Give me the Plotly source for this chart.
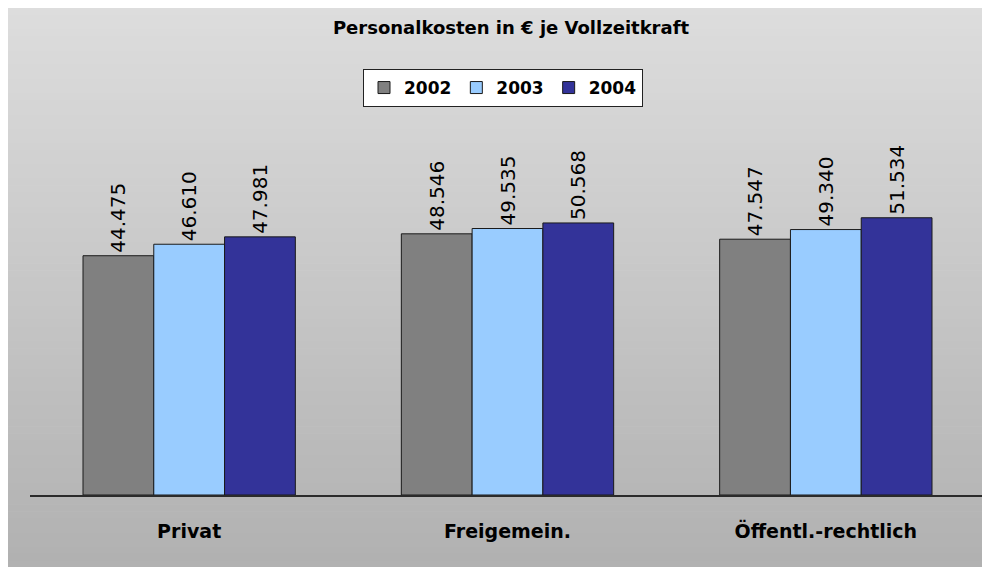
import plotly.graph_objects as go

categories = ["Privat", "Freigemein.", "Öffentl.-rechtlich"]
years = ["2002", "2003", "2004"]
values_2002 = [44475, 48546, 47547]
values_2003 = [46610, 49535, 49340]
values_2004 = [47981, 50568, 51534]
colors = ["#808080", "#99CCFF", "#333399"]

series = [values_2002, values_2003, values_2004]

FONT = "DejaVu Sans, Verdana, sans-serif"
W, H = 990, 567
ML, MR, MT, MB = 22, 13, 102, 80
PW = W - ML - MR
PH = H - MT - MB

fig = go.Figure()
for name, vals, col in zip(years, series, colors):
    fig.add_trace(go.Bar(
        x=categories, y=vals, name=f"<b>{name}</b>",
        marker=dict(color=col, line=dict(color="#1a1a1a", width=1)),
        texttemplate="%{y:,.0f}", textposition="outside", textangle=-90,
        textfont=dict(family=FONT, size=20, color="#000000"),
        cliponaxis=False,
    ))

def px_to_paper_x(px):
    return (px - ML) / PW

def px_to_paper_y(py):
    return (H - MB - py) / PH

# vertical gray gradient built from thin bands
shapes = []
top, bottom = 0, H
n = 80
c_top, c_bot = 221, 176
for i in range(n):
    y0 = top + (bottom - top) * i / n
    y1 = top + (bottom - top) * (i + 1) / n + 0.6
    c = round(c_top + (c_bot - c_top) * (i + 0.5) / n)
    shapes.append(dict(
        type="rect", xref="paper", yref="paper", layer="below",
        x0=px_to_paper_x(-2), x1=px_to_paper_x(W + 2),
        y0=px_to_paper_y(min(y1, bottom + 2)), y1=px_to_paper_y(y0),
        fillcolor=f"rgb({c},{c},{c})", line=dict(width=0),
    ))

fig.update_layout(
    width=W, height=H,
    margin=dict(l=ML, r=MR, t=MT, b=MB, pad=0),
    paper_bgcolor="#DCDCDC",
    plot_bgcolor="rgba(0,0,0,0)",
    separators=",.",
    barmode="group", bargap=0.333, bargroupgap=0,
    shapes=shapes,
    title=dict(text="<b>Personalkosten in € je Vollzeitkraft</b>",
               x=503 / W, xanchor="center", y=1 - 20 / H, yanchor="middle",
               xref="container", yref="container",
               font=dict(family=FONT, size=18, color="#000000")),
    legend=dict(orientation="h", x=px_to_paper_x(495), xanchor="center",
                y=px_to_paper_y(80), yanchor="middle",
                bgcolor="#FFFFFF", bordercolor="#222222", borderwidth=1,
                font=dict(family=FONT, size=17, color="#000000"),
                itemwidth=30, tracegroupgap=0),
    showlegend=True,
    xaxis=dict(showline=True, linecolor="#2a2a2a", linewidth=2, showgrid=False,
               ticks="outside", ticklen=18, tickcolor="rgba(0,0,0,0)",
               tickfont=dict(family=FONT, size=19, color="#000000"),
               tickprefix="<b>", ticksuffix="</b>"),
    yaxis=dict(range=[0, PH / 0.00538], visible=False, showgrid=False, zeroline=False),
)

fig.write_html("out.html")
